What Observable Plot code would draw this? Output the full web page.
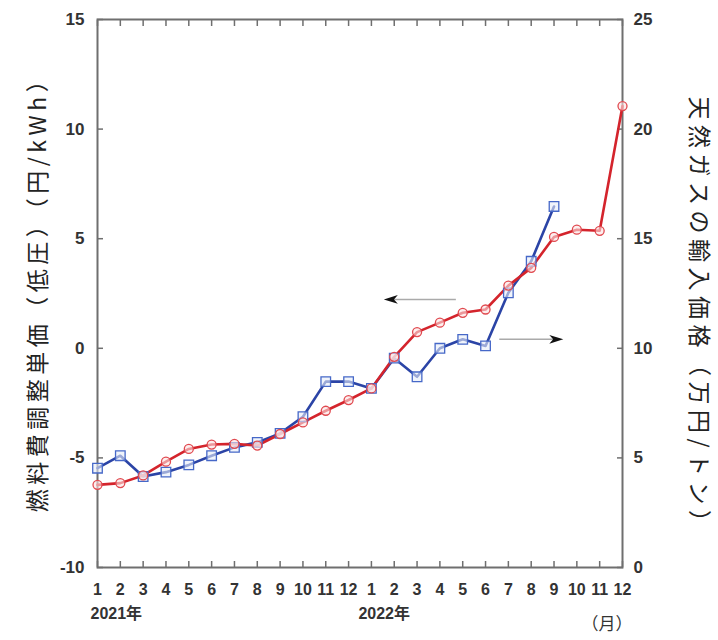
<!DOCTYPE html>
<html>
<head>
<meta charset="utf-8">
<script src="https://cdn.jsdelivr.net/npm/d3@7"></script>
<script src="https://cdn.jsdelivr.net/npm/@observablehq/plot@0.6"></script>
<style>
  body { margin: 0; background: #fff; }
  #chart svg { display: block; }
  [aria-label="left-title"], [aria-label="left-title"] text { letter-spacing: 4.5px; }
  [aria-label="right-title"], [aria-label="right-title"] text { letter-spacing: 5.5px; }
</style>
</head>
<body>
<div id="chart"></div>
<script>
// Month tick labels (Jan 2021 .. Dec 2022)
const monthLabels = [1,2,3,4,5,6,7,8,9,10,11,12,1,2,3,4,5,6,7,8,9,10,11,12];
// Fuel cost adjustment unit price, low voltage (円/kWh), left axis, Jan 2021 .. Sep 2022
const fuelAdj = [-5.47,-4.9,-5.85,-5.65,-5.32,-4.9,-4.52,-4.29,-3.88,-3.12,-1.52,-1.52,
                 -1.83,-0.45,-1.3,0.0,0.41,0.11,2.53,3.97,6.47];
// Natural gas import price (万円/トン), right axis, Jan 2021 .. Dec 2022
const gasPrice = [3.77,3.85,4.2,4.83,5.41,5.61,5.64,5.56,6.09,6.62,7.15,7.64,
                  8.17,9.61,10.74,11.17,11.62,11.77,12.86,13.67,15.08,15.41,15.36,21.05];
// Axis ticks
const leftTicks = [-10,-5,0,5,10,15];
const rightOffset = 10; // right axis (0..25) = left axis (-10..15) + 10
// Year labels
const yearLabels = [{i: 0, label: "2021年"}, {i: 12, label: "2022年"}];
// Annotation arrows (in month index / left-axis units): from -> to
const arrows = [{from: 15.7, to: 12.85, y: 2.23, dir: 180}, {from: 17.6, to: 20.1, y: 0.41, dir: 0}];

const fuelData = fuelAdj.map((v, i) => ({i, v}));
const gasData = gasPrice.map((v, i) => ({i, v: v - rightOffset}));

const stealth = {
  draw(ctx, size) {
    const r = Math.sqrt(size / Math.PI);
    ctx.moveTo(r, 0);
    ctx.lineTo(-r, -r * 0.62);
    ctx.lineTo(-r * 0.45, 0);
    ctx.lineTo(-r, r * 0.62);
    ctx.closePath();
  }
};

const blue = "#2b44a6", blueMark = "#4668c8";
const red = "#d4242c", redMark = "#e0494f";
const axisGray = "#6f6f6f";
const idx = d3.range(24);

const chart = Plot.plot({
  width: 718,
  height: 640,
  marginTop: 19,
  marginBottom: 73,
  marginLeft: 97,
  marginRight: 96,
  style: {fontFamily: "'Liberation Sans', Arial, 'Noto Sans CJK JP', sans-serif", background: "#fff"},
  x: {domain: [0, 23]},
  y: {domain: [-10, 15]},
  marks: [
    // frame
    Plot.frame({stroke: axisGray, strokeWidth: 2}),
    // inward ticks
    Plot.axisX({anchor: "bottom", ticks: idx, tickSize: -6, text: null, stroke: axisGray, strokeWidth: 1.5, label: null}),
    Plot.axisX({anchor: "top", ticks: idx, tickSize: -6, text: null, stroke: axisGray, strokeWidth: 1.5, label: null}),
    Plot.axisY({anchor: "left", ticks: leftTicks, tickSize: -6, text: null, stroke: axisGray, strokeWidth: 1.5, label: null}),
    Plot.axisY({anchor: "right", ticks: leftTicks, tickSize: -6, text: null, stroke: axisGray, strokeWidth: 1.5, label: null}),
    // tick labels
    Plot.axisX({anchor: "bottom", ticks: idx, tickSize: 0, tickPadding: 16, tickFormat: i => monthLabels[i],
      fontSize: 16, fontWeight: "bold", fill: "#333", label: null}),
    Plot.axisY({anchor: "left", ticks: leftTicks, tickSize: 0, tickPadding: 13, tickFormat: d => d,
      fontSize: 17, fontWeight: "bold", fill: "#333", label: null}),
    Plot.axisY({anchor: "right", ticks: leftTicks, tickSize: 0, tickPadding: 11, tickFormat: d => d + rightOffset,
      fontSize: 17, fontWeight: "bold", fill: "#333", label: null}),
    // year labels and unit
    Plot.text([yearLabels[0]], {x: "i", text: "label", frameAnchor: "bottom", dy: 51, dx: -7, textAnchor: "start",
      fontSize: 16, fontWeight: "bold", fill: "#333"}),
    Plot.text([yearLabels[1]], {x: "i", text: "label", frameAnchor: "bottom", dy: 51, dx: -13, textAnchor: "start",
      fontSize: 16, fontWeight: "bold", fill: "#333"}),
    Plot.text(["（月）"], {frameAnchor: "bottom-right", dy: 62, dx: 10, textAnchor: "end",
      fontSize: 17, fill: "#333", fontFamily: "'Noto Sans CJK JP'"}),
    // axis titles
    Plot.text(["燃料費調整単価（低圧）（円/kWh）"], {frameAnchor: "left", textAnchor: "middle", dx: -59, dy: -5, rotate: -90,
      fontSize: 23, fill: "#222", fontFamily: "'Noto Sans CJK JP'", ariaLabel: () => "left-title"}),
    Plot.text(["天然ガスの輸入価格（万円/トン）"], {frameAnchor: "right", textAnchor: "middle", dx: 76, dy: 24, rotate: 90,
      fontSize: 23, fill: "#222", fontFamily: "'Noto Sans CJK JP'", ariaLabel: () => "right-title"}),
    // annotation arrows
    Plot.link(arrows, {x1: "from", x2: "to", y1: "y", y2: "y", stroke: "#aaa", strokeWidth: 1.5}),
    Plot.dot(arrows, {x: "to", y: "y", symbol: stealth, r: 7, fill: "#111", stroke: "none", rotate: "dir"}),
    // series
    Plot.line(fuelData, {x: "i", y: "v", stroke: blue, strokeWidth: 2.6}),
    Plot.line(gasData, {x: "i", y: "v", stroke: red, strokeWidth: 2.6}),
    Plot.dot(fuelData, {x: "i", y: "v", symbol: "square", r: 5.4, stroke: blueMark, strokeWidth: 1.3, fill: "#e6ecf8", fillOpacity: 0.6}),
    Plot.dot(gasData, {x: "i", y: "v", r: 4.5, stroke: redMark, strokeWidth: 1.3, fill: "#fbe3e3", fillOpacity: 0.6})
  ]
});

document.getElementById("chart").append(chart);
</script>
</body>
</html>
